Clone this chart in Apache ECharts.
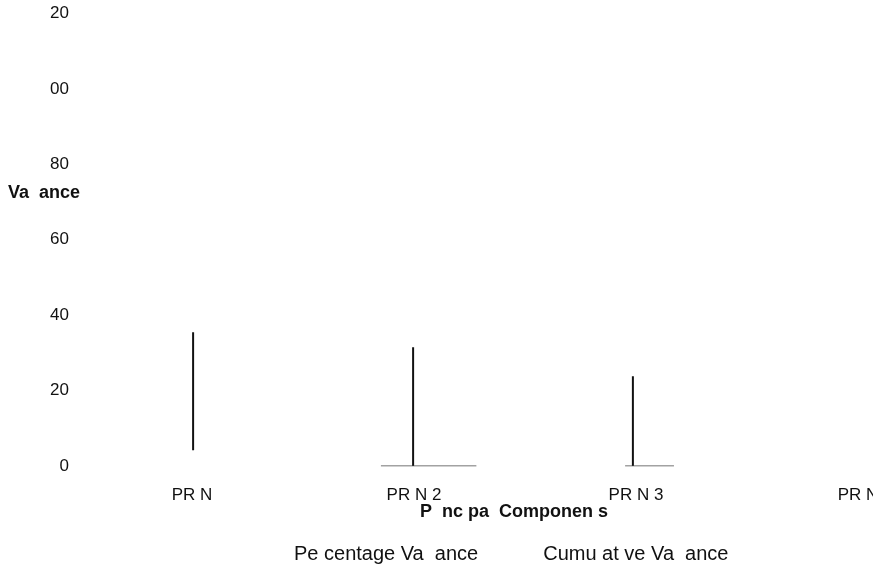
<!DOCTYPE html>
<html>
<head>
<meta charset="utf-8">
<script src="https://cdn.jsdelivr.net/npm/echarts@6/dist/echarts.min.js"></script>
<style>
html,body{margin:0;padding:0;background:#fff;}
#chart{width:873px;height:577px;}
</style>
</head>
<body>
<div id="chart"></div>
<script>
// Category labels (as visible in the reference)
const categories = ['PR N', 'PR N 2', 'PR N 3', 'PR N'];
// Y tick labels (as visible in the reference) for values 0..120
const yTickValues = [0, 20, 40, 60, 80, 100, 120];
const yTickLabels = ['0', '20', '40', '60', '80', '00', '20'];
// Vertical stems: position along the category span, lower and upper values
const stemPos = [0.514, 1.505, 2.495];
const stemLow = [4.2, 0, 0];
const stemHigh = [35.5, 31.5, 23.8];
// Baseline segments (value 0) : start and end along category span
const baseStart = [1.36, 2.46];
const baseEnd = [1.79, 2.68];
const seriesNames = ['Pe centage Va  ance', 'Cumu at ve Va  ance'];
const axisNames = { x: 'P  nc pa  Componen s', y: 'Va  ance' };

const stemData = [];
stemPos.forEach((x, i) => {
  stemData.push([x, stemLow[i]], [x, stemHigh[i]], [null, null]);
});
const baseData = [];
baseStart.forEach((s, i) => {
  baseData.push([s, 0], [baseEnd[i], 0], [null, null]);
});

const labelMap = {};
yTickValues.forEach((v, i) => { labelMap[v] = yTickLabels[i]; });

const FONT = 'Liberation Sans, Arial, sans-serif';
const chart = echarts.init(document.getElementById('chart'));
chart.setOption({
  animation: false,
  backgroundColor: '#fff',
  textStyle: { fontFamily: FONT },
  title: {
    text: axisNames.y,
    left: 3, top: 179,
    textStyle: { fontSize: 18, fontWeight: 'bold', color: '#111', fontFamily: FONT }
  },
  grid: { left: 79, top: 13.5, width: 888, height: 452.5, containLabel: false, outerBoundsMode: 'none' },
  legend: {
    left: 284, top: 539,
    itemWidth: 0, itemHeight: 0, itemGap: 60,
    icon: 'none',
    data: seriesNames,
    textStyle: { fontSize: 20, color: '#111', fontFamily: FONT }
  },
  xAxis: [
    {
      type: 'category',
      data: categories,
      boundaryGap: true,
      axisLine: { show: false },
      axisTick: { show: false },
      axisLabel: { margin: 21, fontSize: 17, color: '#111', interval: 0, padding: [0, 0, 0, 4] },
      name: axisNames.x,
      nameLocation: 'middle',
      nameGap: 37,
      nameMoveOverlap: false,
      nameTextStyle: { fontSize: 18, fontWeight: 'bold', color: '#111', padding: [0, 18, 0, 0] }
    },
    { type: 'value', min: 0, max: 4, show: false }
  ],
  yAxis: {
    type: 'value',
    min: 0, max: 120, interval: 20,
    axisLine: { show: false },
    axisTick: { show: false },
    splitLine: { show: false },
    axisLabel: {
      margin: 10, fontSize: 17, color: '#111',
      formatter: v => (labelMap[v] !== undefined ? labelMap[v] : '')
    }
  },
  series: [
    {
      name: seriesNames[0], type: 'line', xAxisIndex: 1,
      data: stemData, showSymbol: false, connectNulls: false,
      lineStyle: { color: '#111', width: 2 }, itemStyle: { color: '#111' }
    },
    {
      name: seriesNames[1], type: 'line', xAxisIndex: 1,
      data: baseData, showSymbol: false, connectNulls: false,
      lineStyle: { color: '#444', width: 1 }, itemStyle: { color: '#444' }
    }
  ]
});
</script>
</body>
</html>
